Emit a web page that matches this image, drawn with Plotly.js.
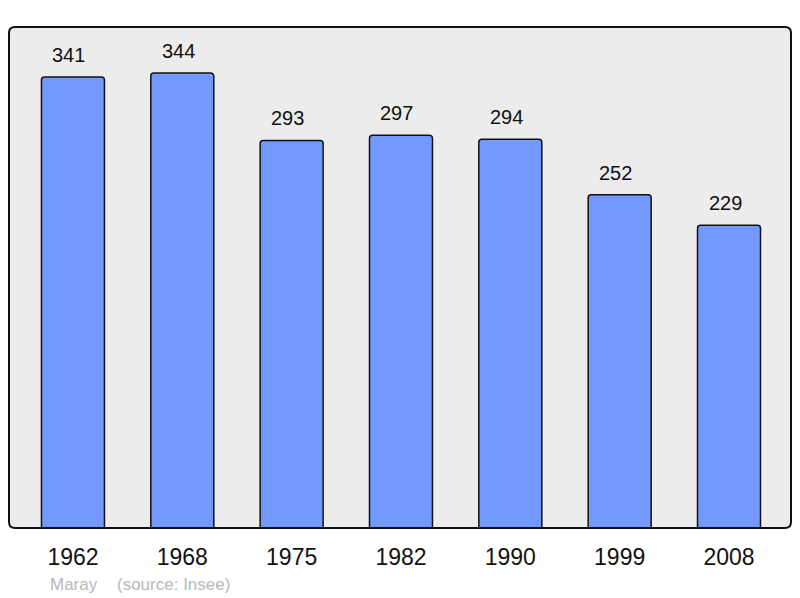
<!DOCTYPE html>
<html>
<head>
<meta charset="utf-8">
<script src="https://cdn.plot.ly/plotly-3.0.1.min.js"></script>
<style>html,body{margin:0;padding:0;background:#fff;}#chart{width:800px;height:598px;}</style>
</head>
<body>
<div id="chart"></div>
<script>
var years = ["1962", "1968", "1975", "1982", "1990", "1999", "2008"];
var population = [341, 344, 293, 297, 294, 252, 229];
var commune = "Maray";
var source = "(source: Insee)";

var W = 782, H = 501, r = 6;
var rx = r / W, ry = r / H;
var framePath = "M " + rx + " 0 L " + (1 - rx) + " 0 Q 1 0 1 " + ry +
  " L 1 " + (1 - ry) + " Q 1 1 " + (1 - rx) + " 1 L " + rx + " 1 Q 0 1 0 " + (1 - ry) +
  " L 0 " + ry + " Q 0 0 " + rx + " 0 Z";

var FONT = "Liberation Sans, Arial, sans-serif";

var trace = {
  type: "bar",
  x: years,
  y: population,
  width: 0.576,
  marker: {color: "#7199ff", line: {color: "#111", width: 1.5}, cornerradius: 3},
  hoverinfo: "none"
};

var annotations = years.map(function (yr, i) {
  return {
    x: i, y: population[i], xref: "x", yref: "y",
    text: String(population[i]), showarrow: false,
    yanchor: "bottom", yshift: 9, xshift: -4,
    font: {family: FONT, size: 20, color: "#111"}
  };
});
annotations.push({
  xref: "paper", yref: "paper", x: 0.0505, y: -0.112, xanchor: "left", yanchor: "middle",
  text: commune, showarrow: false,
  font: {family: FONT, size: 17, color: "#b8b8b8"}
});
annotations.push({
  xref: "paper", yref: "paper", x: 0.136, y: -0.112, xanchor: "left", yanchor: "middle",
  text: source, showarrow: false,
  font: {family: FONT, size: 17, color: "#b8b8b8"}
});

var layout = {
  width: 800, height: 598,
  margin: {l: 9, r: 9, t: 27, b: 70},
  paper_bgcolor: "#ffffff",
  plot_bgcolor: "#ececec",
  showlegend: false,
  xaxis: {
    type: "category", range: [-0.585, 6.567],
    showgrid: false, zeroline: false, showline: false,
    ticks: "outside", ticklen: 8, tickcolor: "rgba(0,0,0,0)",
    tickfont: {family: FONT, size: 23, color: "#111"}
  },
  yaxis: {
    range: [0, 378.8], showgrid: false, zeroline: false, showline: false,
    showticklabels: false, ticks: ""
  },
  shapes: [{
    type: "path", xref: "paper", yref: "paper", path: framePath,
    line: {color: "#111", width: 2}, fillcolor: "rgba(0,0,0,0)", layer: "above"
  }],
  annotations: annotations
};

Plotly.newPlot("chart", [trace], layout, {displayModeBar: false, staticPlot: true});
</script>
</body>
</html>
